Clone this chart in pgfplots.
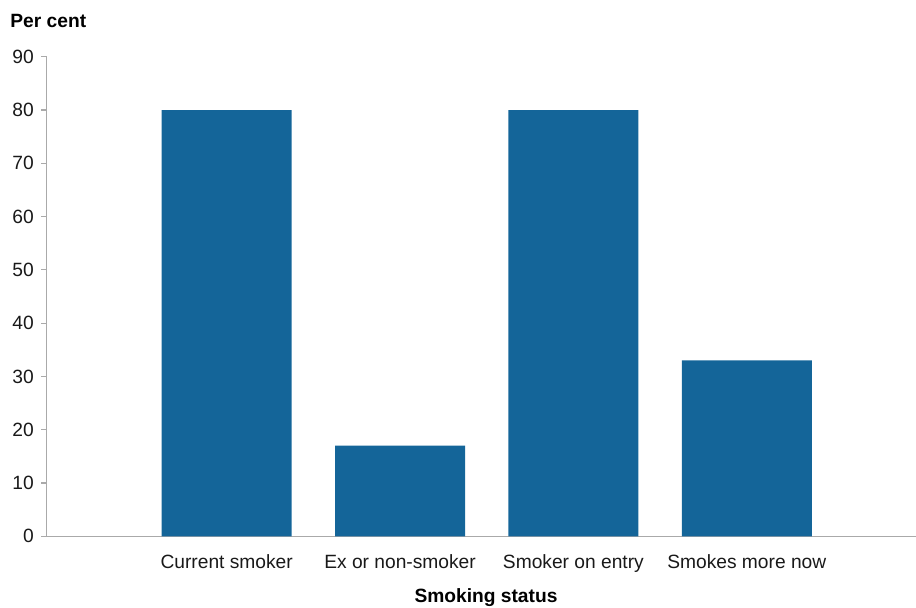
\documentclass[border=0pt]{standalone}
\usepackage{fontspec}
\setmainfont{Liberation Sans}
\usepackage{pgfplots}
\pgfplotsset{compat=1.18}
\definecolor{barblue}{RGB}{20,101,153}
\definecolor{axgray}{RGB}{170,170,170}
\begin{document}
\begin{tikzpicture}
\path[use as bounding box] (0,0) rectangle (458pt,303.5pt);
\begin{axis}[
  at={(23.35pt,35.35pt)}, anchor=south west,
  scale only axis,
  width=434.65pt, height=239.8pt,
  xmin=-0.038, xmax=4.976,
  ymin=0, ymax=90,
  ytick={0,10,...,90},
  xtick={1,2,3,4},
  xticklabels={Current smoker, Ex or non-smoker, Smoker on entry, Smokes more now},
  axis x line*=bottom, axis y line*=left,
  axis line style={-, draw=axgray, line width=0.6pt},
  x axis line style={-}, y axis line style={-},
  xtick style={draw=none},
  ytick style={draw=axgray, line width=0.6pt},
  tick align=outside, major tick length=2.8pt,
  /pgf/number format/assume math mode=true,
  every tick label/.append style={font=\fontsize{9.6}{11}\selectfont, text=black!90},
  xticklabel style={anchor=north, inner sep=0pt, yshift=-6pt},
  yticklabel style={anchor=east, inner sep=0pt, xshift=-3.5pt},
  clip=false,
]
\addplot[ybar, bar width=65pt, fill=barblue, draw=none, bar shift=0pt] coordinates {
  (1,80) (2,17) (3,80) (4,33)
};
\end{axis}
\node[anchor=base west, inner sep=0pt, font=\fontsize{9.6}{11}\selectfont\bfseries] at (5pt,290pt) {Per cent};
\node[anchor=base, inner sep=0pt, font=\fontsize{9.6}{11}\selectfont\bfseries] at (243pt,2.5pt) {Smoking status};
\end{tikzpicture}
\end{document}
